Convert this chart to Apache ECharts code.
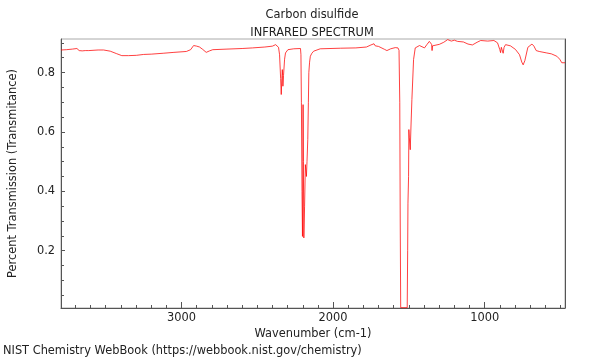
<!DOCTYPE html>
<html>
<head>
<meta charset="utf-8">
<script src="https://cdn.jsdelivr.net/npm/echarts@6/dist/echarts.min.js"></script>
<style>
html,body{margin:0;padding:0;background:#fff;}
#main{width:600px;height:360px;}
</style>
</head>
<body>
<div id="main"></div>
<script type="text/javascript">
	// 波数 (cm-1)
	var wavenumbers = [3795,3760,3720,3690,3675,3666,3655,3644,3635,3625,3612,3600,3550,3514,3470,3430,3394,3350,3298,3250,3200,3121,3050,2968,2940,2920,2913,2900,2881,2860,2837,2815,2794,2700,2600,2532,2450,2400,2379,2368,2360,2353,2346,2342,2338,2335,2333,2331,2327,2320,2314,2298,2260,2215,2212,2209,2205,2202,2199,2198,2196,2193,2188,2183,2176,2172,2167,2163,2160,2155,2150,2140,2128,2085,1950,1850,1780,1750,1740,1730,1722,1712,1700,1690,1660,1645,1620,1590,1572,1565,1560,1557,1554,1511,1508,1506,1502,1500,1497,1491,1486,1480,1469,1458,1430,1397,1380,1365,1350,1347,1344,1336,1299,1270,1244,1220,1200,1179,1140,1110,1081,1050,1026,980,939,915,900,895,890,884,878,872,862,830,797,770,755,746,735,715,688,675,660,640,590,560,524,505,491,470];
	// 透过率
	var transmittance = [0.876,0.877,0.879,0.881,0.874,0.868,0.873,0.877,0.874,0.870,0.874,0.876,0.876,0.876,0.872,0.864,0.857,0.857,0.858,0.861,0.862,0.865,0.868,0.871,0.877,0.891,0.894,0.889,0.886,0.878,0.868,0.873,0.877,0.879,0.881,0.883,0.886,0.889,0.894,0.894,0.885,0.86,0.78,0.726,0.78,0.81,0.79,0.754,0.79,0.845,0.866,0.877,0.88,0.881,0.86,0.7,0.4,0.248,0.5,0.692,0.5,0.243,0.35,0.49,0.45,0.5,0.574,0.7,0.8,0.835,0.855,0.865,0.872,0.88,0.882,0.883,0.886,0.893,0.889,0.897,0.89,0.894,0.888,0.886,0.878,0.874,0.88,0.884,0.883,0.875,0.7,0.3,0.008,0.008,0.2,0.36,0.45,0.608,0.58,0.54,0.62,0.709,0.844,0.883,0.891,0.883,0.895,0.905,0.895,0.874,0.89,0.894,0.895,0.902,0.911,0.906,0.909,0.905,0.903,0.896,0.893,0.902,0.908,0.906,0.908,0.9,0.877,0.867,0.885,0.889,0.865,0.885,0.894,0.89,0.878,0.86,0.835,0.826,0.84,0.885,0.896,0.889,0.874,0.871,0.866,0.863,0.855,0.845,0.833,0.833];
	// 刻度
	var xMajorTicks = [1000,2000,3000];
	var xMinorTicks = [500,600,700,800,900,1100,1200,1300,1400,1500,1600,1700,1800,1900,2100,2200,2300,2400,2500,2600,2700,2800,2900,3100,3200,3300,3400,3500,3600,3700];
	var yMajorTicks = [0.2,0.4,0.6,0.8];
	var yMinorTicks = [0.05,0.1,0.15,0.25,0.3,0.35,0.45,0.5,0.55,0.65,0.7,0.75,0.85,0.9];

	var xMin = 470, xMax = 3795, yMin = 0.007, yMax = 0.913;
	var font = 'DejaVu Sans';
	var fontSize = 11.4;
	var axisColor = '#555';

	var points = [];
	wavenumbers.forEach(function(w,i){
		points.push([w,transmittance[i]]);
	});

	var myChart = echarts.init(document.getElementById('main'));

	var option = {
		animation:false,
		backgroundColor:'#fff',
		title:[
			{text:'Carbon disulfide',left:307,textAlign:'center',top:5,textStyle:{fontFamily:font,fontSize:fontSize,fontWeight:'normal',color:'#222'}},
			{text:'INFRARED SPECTRUM',left:307,textAlign:'center',top:23,textStyle:{fontFamily:font,fontSize:fontSize,fontWeight:'normal',color:'#222'}}
		],
		grid:{left:57,right:35,top:39,bottom:52,show:true,borderColor:'#aaa',borderWidth:1},
		xAxis:[
			{
				type:'value',inverse:true,min:xMin,max:xMax,position:'bottom',
				name:'Wavenumber (cm-1)',nameLocation:'middle',nameGap:17,
				nameTextStyle:{fontFamily:font,fontSize:fontSize,color:'#222'},
				axisLine:{show:true,lineStyle:{color:axisColor,width:1}},
				axisTick:{show:true,inside:true,length:6,customValues:xMajorTicks,lineStyle:{color:axisColor}},
				axisLabel:{show:true,customValues:xMajorTicks,margin:5,fontFamily:font,fontSize:fontSize,color:'#222',
					formatter:function(v){return String(v);}},
				splitLine:{show:false}
			},
			{
				type:'value',inverse:true,min:xMin,max:xMax,position:'bottom',offset:0,
				axisLine:{show:false},
				axisTick:{show:true,inside:true,length:3,customValues:xMinorTicks,lineStyle:{color:axisColor}},
				axisLabel:{show:false},
				splitLine:{show:false}
			}
		],
		yAxis:[
			{
				type:'value',min:yMin,max:yMax,position:'left',
				name:'Percent Transmission (Transmitance)',nameLocation:'middle',nameGap:42,
				nameTextStyle:{fontFamily:font,fontSize:fontSize,color:'#222'},
				axisLine:{show:true,lineStyle:{color:axisColor,width:1}},
				axisTick:{show:true,inside:true,length:4,customValues:yMajorTicks,lineStyle:{color:axisColor}},
				axisLabel:{show:true,customValues:yMajorTicks,margin:6,fontFamily:font,fontSize:fontSize,color:'#222',
					formatter:function(v){return v.toFixed(1);}},
				splitLine:{show:false}
			},
			{
				type:'value',min:yMin,max:yMax,position:'left',offset:0,
				axisLine:{show:false},
				axisTick:{show:true,inside:true,length:3,customValues:yMinorTicks,lineStyle:{color:axisColor}},
				axisLabel:{show:false},
				splitLine:{show:false}
			},
			{
				type:'value',min:yMin,max:yMax,position:'right',offset:0,
				axisLine:{show:true,lineStyle:{color:axisColor,width:1}},
				axisTick:{show:false},
				axisLabel:{show:false},
				splitLine:{show:false}
			}
		],
		graphic:[
			{type:'text',left:3,top:346,style:{text:'NIST Chemistry WebBook (https://webbook.nist.gov/chemistry)',fontFamily:font,fontSize:fontSize,fill:'#222'}}
		],
		series:[
			{
				name:'Carbon disulfide',
				type:'line',
				xAxisIndex:0,
				yAxisIndex:0,
				data:points,
				showSymbol:false,
				clip:true,
				lineStyle:{color:'rgba(255,0,0,0.75)',width:1},
				itemStyle:{color:'rgba(255,0,0,0.75)'}
			}
		]
	};

	myChart.setOption(option);
</script>
</body>
</html>
